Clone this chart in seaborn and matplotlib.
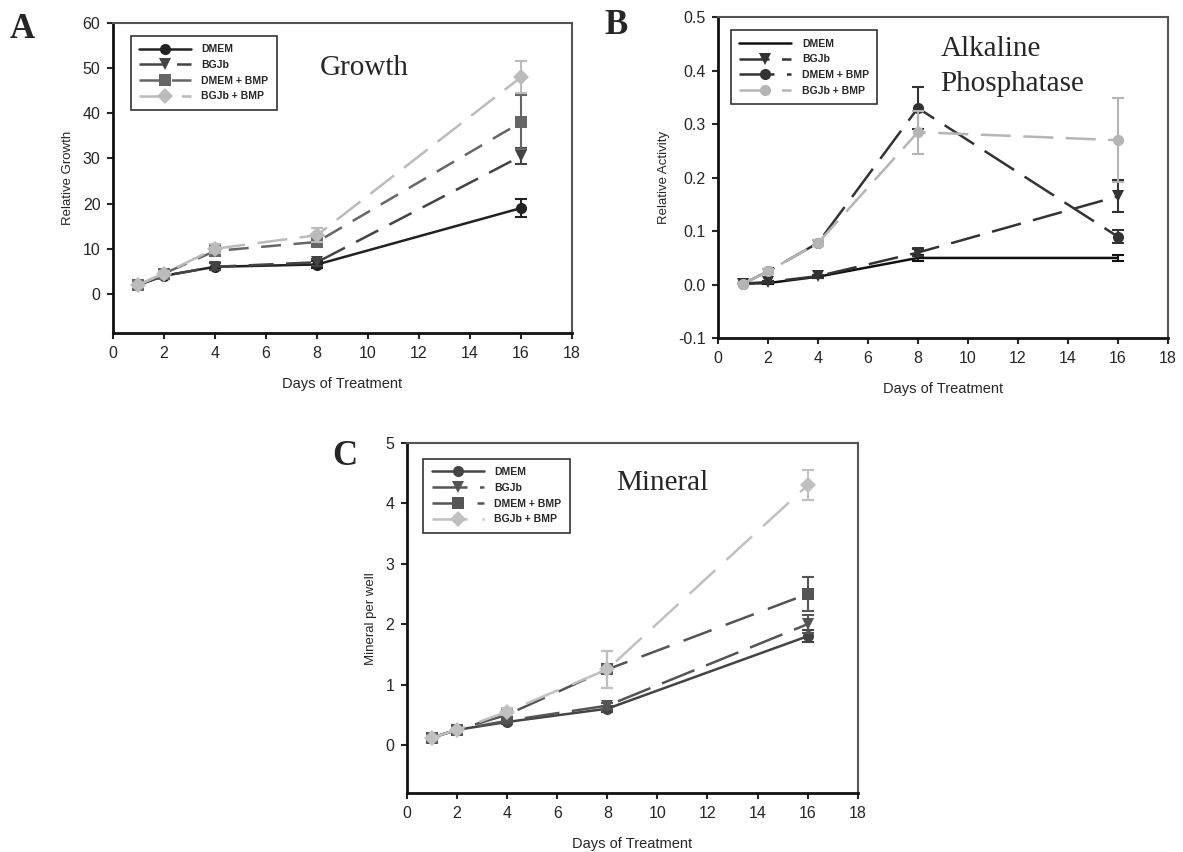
import matplotlib
matplotlib.use("Agg")
import matplotlib.pyplot as plt
import seaborn as sns

# shared x values and series names
days = [1, 2, 4, 8, 16]
groups = ["DMEM", "BGJb", "DMEM + BMP", "BGJb + BMP"]

# Panel A - growth
growth_dmem = [2.0, 4.0, 6.0, 6.5, 19.0]
growth_bgjb = [2.0, 4.0, 6.0, 7.0, 30.5]
growth_dmem_bmp = [2.0, 4.5, 9.5, 11.5, 38.0]
growth_bgjb_bmp = [2.0, 4.5, 10.0, 13.0, 48.0]
growth_err_dmem = [0.5, 0.5, 0.8, 0.8, 2.0]
growth_err_bgjb = [0.5, 0.5, 0.8, 0.8, 1.8]
growth_err_dmem_bmp = [0.5, 0.6, 1.0, 1.0, 6.0]
growth_err_bgjb_bmp = [0.5, 0.6, 1.0, 1.5, 3.5]

# Panel B - alkaline phosphatase
alp_dmem = [0.002, 0.003, 0.015, 0.050, 0.050]
alp_bgjb = [0.002, 0.005, 0.016, 0.060, 0.165]
alp_dmem_bmp = [0.002, 0.025, 0.078, 0.330, 0.090]
alp_bgjb_bmp = [0.002, 0.025, 0.078, 0.285, 0.270]
alp_err_dmem = [0.001, 0.002, 0.003, 0.005, 0.006]
alp_err_bgjb = [0.001, 0.002, 0.003, 0.006, 0.030]
alp_err_dmem_bmp = [0.001, 0.004, 0.006, 0.040, 0.012]
alp_err_bgjb_bmp = [0.001, 0.004, 0.006, 0.040, 0.078]

# Panel C - mineral
min_dmem = [0.12, 0.25, 0.38, 0.60, 1.80]
min_bgjb = [0.12, 0.25, 0.40, 0.65, 2.00]
min_dmem_bmp = [0.12, 0.25, 0.50, 1.25, 2.50]
min_bgjb_bmp = [0.12, 0.25, 0.55, 1.25, 4.30]
min_err_dmem = [0.02, 0.03, 0.04, 0.05, 0.10]
min_err_bgjb = [0.02, 0.03, 0.04, 0.05, 0.15]
min_err_dmem_bmp = [0.02, 0.03, 0.05, 0.30, 0.28]
min_err_bgjb_bmp = [0.02, 0.03, 0.06, 0.30, 0.25]

sns.set_style("white")
plt.rcParams["font.family"] = ["Liberation Sans", "DejaVu Sans"]

fig = plt.figure(figsize=(11.83, 8.52), dpi=100)
axA = fig.add_axes([0.0955, 0.609, 0.388, 0.364])
axB = fig.add_axes([0.607, 0.603, 0.380, 0.377])
axC = fig.add_axes([0.344, 0.069, 0.381, 0.411])


def draw_panel(ax, series, errs, styles):
	for name, vals, err, st in zip(groups, series, errs, styles):
		color, ls, marker = st
		sns.lineplot(x=days, y=vals, ax=ax, color=color, linestyle=ls, marker=marker,
					 markersize=8, markeredgewidth=0, linewidth=1.8, label=name,
					 errorbar=None)
		ax.errorbar(days, vals, yerr=err, fmt="none", ecolor=color, elinewidth=1.5,
					capsize=4, capthick=1.5)


def style_axes(ax, ylim, yticks, ylabel, yfmt, legend_box):
	ax.set_xlim(0, 18)
	ax.set_ylim(*ylim)
	ax.set_xticks(range(0, 19, 2))
	ax.set_yticks(yticks)
	ax.set_yticklabels([yfmt.format(v) for v in yticks])
	ax.set_xlabel("Days of Treatment", fontsize=10.5, labelpad=12)
	ax.set_ylabel(ylabel, fontsize=9.5, labelpad=6)
	ax.tick_params(axis="both", direction="out", length=4, width=1.5, labelsize=11.5,
				   bottom=True, left=True, pad=5)
	for s in ["left", "bottom"]:
		ax.spines[s].set_linewidth(2)
		ax.spines[s].set_color("#111111")
	for s in ["top", "right"]:
		ax.spines[s].set_linewidth(1.5)
		ax.spines[s].set_color("#555555")
	leg = ax.legend(loc="upper left", bbox_to_anchor=legend_box, frameon=True,
					fancybox=False, handlelength=5, borderpad=0.8, labelspacing=0.55,
					handletextpad=1.0, prop={"weight": "bold", "size": 7.5})
	leg.get_frame().set_edgecolor("black")
	leg.get_frame().set_linewidth(1.2)


# A
draw_panel(axA,
		   [growth_dmem, growth_bgjb, growth_dmem_bmp, growth_bgjb_bmp],
		   [growth_err_dmem, growth_err_bgjb, growth_err_dmem_bmp, growth_err_bgjb_bmp],
		   [("#222222", "-", "o"), ("#444444", (0, (10, 5)), "v"),
			("#666666", (0, (8, 5)), "s"), ("#bbbbbb", (0, (12, 5)), "D")])
style_axes(axA, (-8.7, 60), range(0, 61, 10), "Relative Growth", "{:d}", (0.027, 0.975))
axA.text(9.85, 50, "Growth", fontsize=21, family="Liberation Serif", ha="center", va="center")

# B
draw_panel(axB,
		   [alp_dmem, alp_bgjb, alp_dmem_bmp, alp_bgjb_bmp],
		   [alp_err_dmem, alp_err_bgjb, alp_err_dmem_bmp, alp_err_bgjb_bmp],
		   [("#111111", "-", None), ("#333333", (0, (12, 5)), "v"),
			("#333333", (0, (14, 5)), "o"), ("#b5b5b5", (0, (12, 5)), "o")])
style_axes(axB, (-0.1, 0.5), [-0.1, 0.0, 0.1, 0.2, 0.3, 0.4, 0.5], "Relative Activity",
		   "{:.1f}", (0.017, 0.975))
axB.text(8.9, 0.44, "Alkaline", fontsize=21, family="Liberation Serif", ha="left", va="center")
axB.text(8.9, 0.375, "Phosphatase", fontsize=21, family="Liberation Serif", ha="left", va="center")

# C
draw_panel(axC,
		   [min_dmem, min_bgjb, min_dmem_bmp, min_bgjb_bmp],
		   [min_err_dmem, min_err_bgjb, min_err_dmem_bmp, min_err_bgjb_bmp],
		   [("#444444", "-", "o"), ("#555555", (0, (14, 5)), "v"),
			("#555555", (0, (12, 6)), "s"), ("#c0c0c0", (0, (14, 6)), "D")])
style_axes(axC, (-0.8, 5), range(0, 6), "Mineral per well", "{:d}", (0.025, 0.97))
axC.text(10.2, 4.33, "Mineral", fontsize=21, family="Liberation Serif", ha="center", va="center")

# panel letters
for lbl, x, y in [("A", 0.008, 0.985), ("B", 0.511, 0.99), ("C", 0.281, 0.483)]:
	fig.text(x, y, lbl, fontsize=25, weight="bold", family="Liberation Serif", va="top")

fig.savefig("out.png", dpi=100)
